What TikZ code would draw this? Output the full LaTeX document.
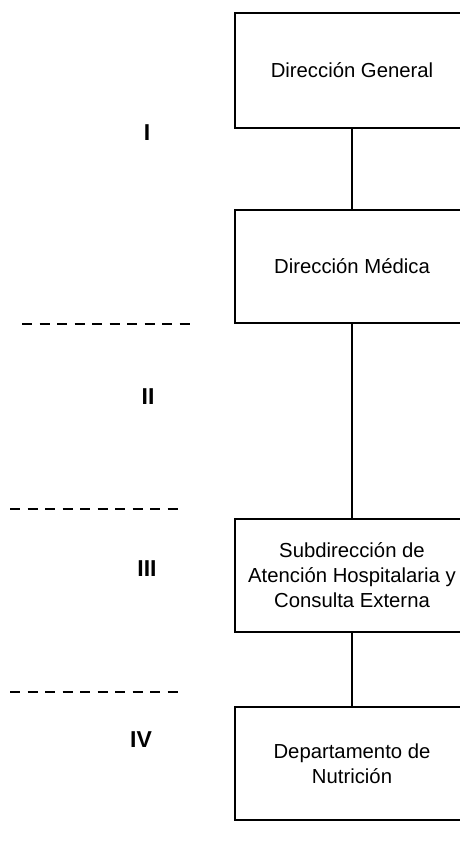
\documentclass[tikz,border=0pt]{standalone}
\usepackage{fontspec}
\setmainfont{Liberation Sans}
\usepackage{tikz}
\usetikzlibrary{positioning}

\begin{document}
\begin{tikzpicture}[x=1pt,y=1pt,-,auto,node distance=80pt,
                    main node/.style={rectangle,draw,line width=1.8pt,minimum width=234pt,minimum height=113pt,
                                      align=center,inner sep=0pt,font=\fontsize{20.3}{25}\selectfont},
                    level node/.style={font=\fontsize{23}{26}\selectfont\bfseries},
                    level line/.style={line width=1.4pt,dash pattern=on 10pt off 7.5pt}]

  \useasboundingbox (0,0) rectangle (459,-848);

  \node[main node,minimum height=115pt] (1) at (352,-70.5) {Dirección General};
  \node[main node] (2) [below=80pt of 1] {Dirección Médica};
  \node[main node] (3) [below=194pt of 2] {Subdirección de\\Atención Hospitalaria y\\Consulta Externa};
  \node[main node] (4) [below=73.5pt of 3] {Departamento de\\Nutrición};

  \node[level node] (I) at (147,-133) {I};
  \node[level node] (II) at (148,-397) {II};
  \node[level node] (III) at (147,-569) {III};
  \node[level node] (IV) at (141,-740) {IV};

  \draw[level line] (22,-324) -- (197,-324);
  \draw[level line] (10,-509) -- (185,-509);
  \draw[level line] (10,-692) -- (185,-692);

  \path[line width=1.8pt]
  (1) edge (2)
  (2) edge (3)
  (3) edge (4);

\end{tikzpicture}
\end{document}
